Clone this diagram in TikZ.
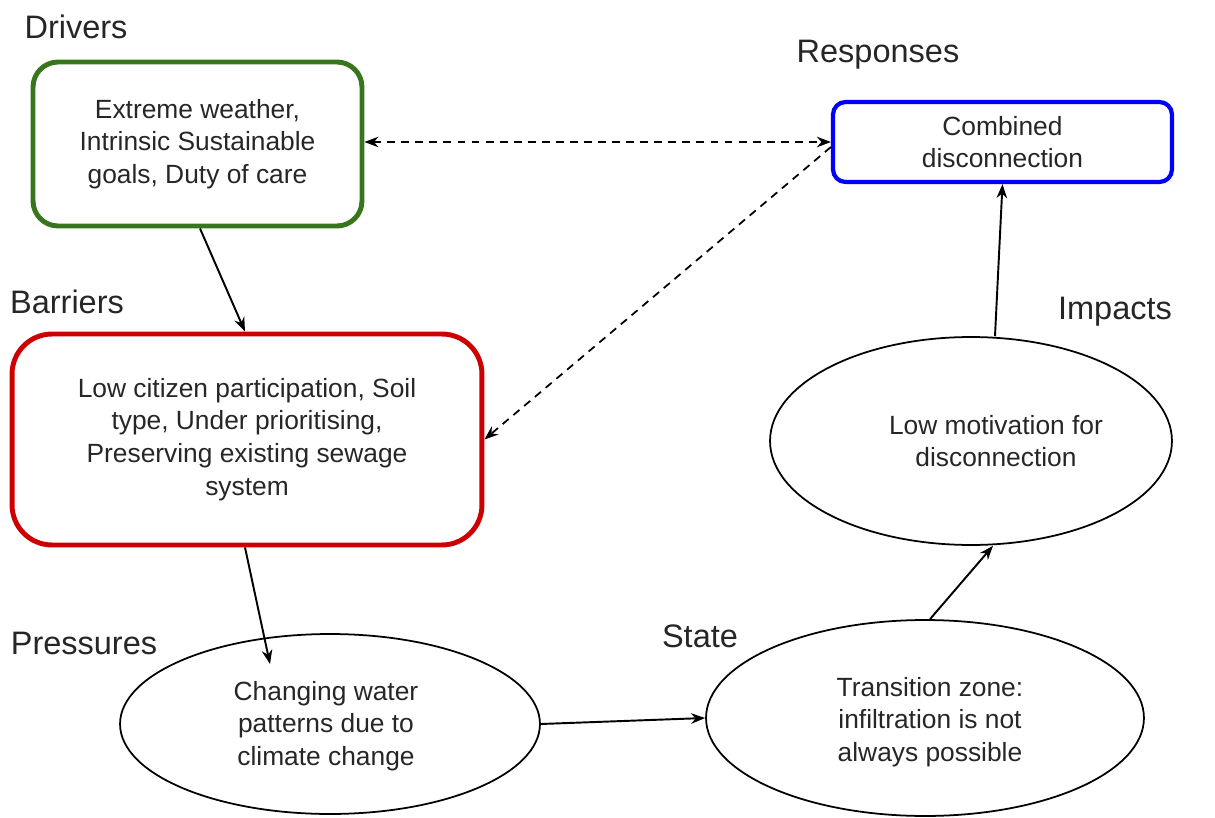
\documentclass[tikz,border=0pt]{standalone}
\usepackage{fontspec}
\setmainfont{Liberation Sans}
\usetikzlibrary{arrows.meta,shapes.geometric,calc}
\definecolor{drvgreen}{HTML}{38761D}
\definecolor{barred}{HTML}{CC0000}
\definecolor{resblue}{HTML}{0000FF}
\definecolor{inkgray}{HTML}{262626}
\begin{document}
\begin{tikzpicture}[x=0.02cm,y=-0.02cm,
  body/.style={font=\fontsize{15}{18.6}\selectfont, text=inkgray, align=center},
  heading/.style={font=\fontsize{18.5}{22}\selectfont, text=inkgray, inner sep=0},
  roundbox/.style={body, draw, line width=2.8pt, rounded corners=#1, inner sep=0},
  oval/.style={draw, ellipse, line width=1pt, inner sep=0},
  tip/.tip={Stealth[length=8pt,width=6pt]},
  link/.style={line width=1.1pt, -{tip}},
  dashlink/.style={line width=1pt, dash pattern=on 4.5pt off 3.5pt}]
\useasboundingbox (0,0) rectangle (1215,818);

% section headings
\node[heading] (hDrv) at (76,27) {Drivers};
\node[heading] (hRes) at (878,55) {Responses};
\node[heading] (hBar) at (67,302) {Barriers};
\node[heading] (hPre) at (84,643) {Pressures};
\node[heading] (hSta) at (700,636) {State};
\node[heading] (hImp) at (1115,312) {Impacts};

% boxes
\node[roundbox=0.5cm, drvgreen, minimum width=6.58cm, minimum height=3.28cm] (drv) at (197.5,144)
  {\color{inkgray}Extreme weather,\\\color{inkgray}Intrinsic Sustainable\\\color{inkgray}goals, Duty of care};
\node[roundbox=0.25cm, resblue, line width=2.4pt, minimum width=6.78cm, minimum height=1.6cm] (res) at (1002.5,142)
  {\color{inkgray}Combined\\\color{inkgray}disconnection};
\node[roundbox=0.8cm, barred, minimum width=9.4cm, minimum height=4.22cm] (bar) at (247,439.5)
  {\color{inkgray}Low citizen participation, Soil\\\color{inkgray}type, Under prioritising,\\\color{inkgray}Preserving existing sewage\\\color{inkgray}system};

% ellipses
\node[oval, minimum width=8.4cm, minimum height=3.6cm] (pre) at (330,724) {};
\node[body] (preText) at (326,726) {Changing water\\patterns due to\\climate change};
\node[oval, minimum width=8.76cm, minimum height=3.92cm] (sta) at (925,718) {};
\node[body] (staText) at (930,722) {Transition zone:\\infiltration is not\\always possible};
\node[oval, minimum width=8.04cm, minimum height=4.16cm] (imp) at (971,441) {};
\node[body] (impText) at (996,441) {Low motivation for\\disconnection};

% causal chain
\draw[link] ([xshift=0.05cm]drv.south) -- ([xshift=-0.04cm]bar.north);
\draw[link] ([xshift=-0.04cm]bar.south) -- ($(pre.center)+(-60,-60)$);
\draw[link] (pre.east) -- (sta.west);
\draw[link] ([xshift=0.1cm]sta.north) -- ([xshift=0.44cm]imp.south);
\draw[link] ([xshift=0.48cm]imp.north) -- (res.south);

% feedback from responses
\draw[dashlink, {tip}-{tip}] (res.west -| drv.east) -- (res.west);
\draw[dashlink, -{tip}] ([yshift=-0.1cm]res.west) -- (bar.east);
\end{tikzpicture}
\end{document}
